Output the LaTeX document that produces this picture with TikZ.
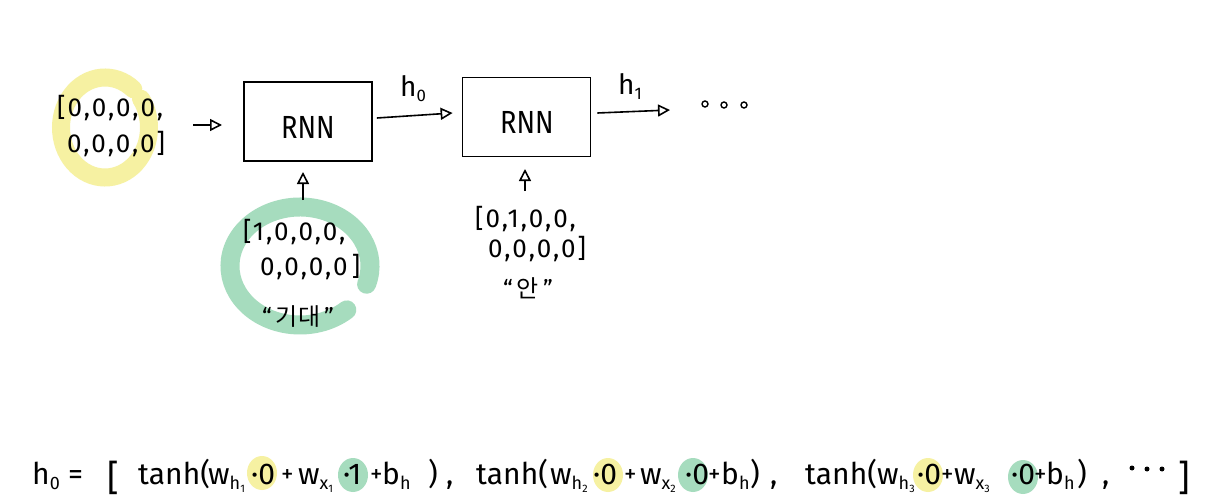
\documentclass[tikz,border=0pt]{standalone}
\usepackage{fontspec}
\setmainfont{Fira Sans}
\newfontfamily\hand[LetterSpace=8]{Fira Sans}
\newfontfamily\cjk{Noto Sans CJK KR}
\usetikzlibrary{arrows.meta}
\definecolor{hlyellow}{RGB}{246,241,162}
\definecolor{hlgreen}{RGB}{166,220,190}
\newcommand{\lo}[1]{\raisebox{-0.35ex}{\scalebox{0.6}{#1}}}
\begin{document}
\begin{tikzpicture}[x=1pt,y=-1pt,
  vec/.style={inner sep=0pt, anchor=base west, font=\hand\fontsize{26}{26}\selectfont},
  kor/.style={inner sep=0pt, font=\fontsize{24}{24}\selectfont},
  eq/.style={inner sep=0pt, anchor=base west, font=\fontsize{30}{30}\selectfont},
  pl/.style={inner sep=0pt, anchor=base west, font=\fontsize{25}{25}\selectfont},
  lbl/.style={inner sep=0pt, anchor=base west, font=\fontsize{28}{28}\selectfont},
  rnnbox/.style={draw, line width=1.8pt, minimum width=128pt, minimum height=79pt, inner sep=0pt},
  rnntxt/.style={inner sep=0pt, font=\fontsize{32}{32}\selectfont},
  arr/.style={line width=1.6pt, -{Triangle[open, length=12pt, width=12pt, line width=1.6pt]}},
  dotc/.style={draw, circle, line width=1.4pt, minimum size=6pt, inner sep=0pt},
  dotf/.style={fill, circle, minimum size=5pt, inner sep=0pt}
]
\fill[white] (0,0) rectangle (1229,503);

% highlight strokes
\draw[hlyellow, line width=18pt, line cap=round]
  (105,127.5) ++ (50:44pt and 50pt) arc[start angle=50, end angle=395, x radius=44pt, y radius=50pt];
\draw[hlgreen, line width=19pt, line cap=round]
  (300,266) ++ (-18:70pt and 59pt) arc[start angle=-18, end angle=312, x radius=70pt, y radius=59pt];

% equation highlights
\fill[hlyellow] (262,473) ellipse[x radius=15pt, y radius=17pt];
\fill[hlgreen]  (353,475) ellipse[x radius=15pt, y radius=17pt];
\fill[hlyellow] (608,475) ellipse[x radius=15pt, y radius=17pt];
\fill[hlgreen]  (693,475) ellipse[x radius=15pt, y radius=17pt];
\fill[hlyellow] (928,475) ellipse[x radius=15pt, y radius=17pt];
\fill[hlgreen]  (1023,477) ellipse[x radius=15pt, y radius=17pt];

% input vector 0
\node[vec] (x0a) at (57,117) {[0,0,0,0,};
\node[vec] (x0b) at (67,152) {0,0,0,0]};
\coordinate (a0s) at (193,125);
\coordinate (a0e) at (222,125);
\draw[arr] (a0s) -- (a0e);

% RNN boxes
\node[rnnbox] (b1) at (308,121.5) {};
\node[rnntxt] (r1) at (308,127) {\scalebox{0.85}[1]{RNN}};
\node[rnnbox] (b2) at (526.5,117) {};
\node[rnntxt] (r2) at (527,122) {\scalebox{0.85}[1]{RNN}};

\draw[arr] ([xshift=4pt,yshift=3.5pt]b1.east) -- ([xshift=-9pt,yshift=4pt]b2.west);
\node[lbl] (h0) at (400,96) {h\lo{0}};
\coordinate (a2e) at (670,110);
\draw[arr] ([xshift=6pt,yshift=4pt]b2.east) -- (a2e);
\node[lbl] (h1) at (618,94) {h\lo{1}};
\node[dotc] (d1) at (705,104) {};
\node[dotc] (d2) at (724,105) {};
\node[dotc] (d3) at (744,105) {};

% inputs below
\coordinate (u1s) at (303,200);
\coordinate (u1e) at (303,172);
\draw[arr] (u1s) -- (u1e);
\node[vec] (x1a) at (243,240) {[1,0,0,0,};
\node[vec] (x1b) at (260,275) {0,0,0,0\,]};
\node[kor] (k1) at (298,317) {“\,{\cjk 기대}\,”};

\coordinate (u2s) at (525,191);
\coordinate (u2e) at (525,169);
\draw[arr] (u2s) -- (u2e);
\node[vec] (x2a) at (475,227) {[0,1,0,0,};
\node[vec] (x2b) at (488,257) {0,0,0,0]};
\node[kor] (k2) at (528,288) {“\,{\cjk 안}\,”};

% equation
\node[eq] (e1) at (32,484) {h\lo{0}};
\node[eq] (e2) at (68,484) {=};
\node[eq, font=\fontsize{36}{36}\selectfont] (e3) at (107,490) {[};
\node[eq] (t1a) at (138,484) {tanh(};
\node[eq] (t1b) at (208,484) {w\lo{h\lo{1}}};
\node[eq] (t1c) at (251,484) {·0};
\node[pl] (t1d) at (281,482) {+};
\node[eq] (t1e) at (298,484) {w\lo{x\lo{1}}};
\node[eq] (t1f) at (343,484) {·1};
\node[pl] (t1g) at (370,482) {+};
\node[eq] (t1j) at (382,484) {b\lo{h}};
\node[eq] (t1h) at (428,484) {)};
\node[eq] (t1i) at (446,484) {,};
\node[eq] (t2a) at (476,484) {tanh(};
\node[eq] (t2b) at (550,484) {w\lo{h\lo{2}}};
\node[eq] (t2c) at (593,484) {·0};
\node[pl] (t2d) at (624,482) {+};
\node[eq] (t2e) at (640,484) {w\lo{x\lo{2}}};
\node[eq] (t2f) at (685,484) {·0};
\node[pl] (t2g) at (708,482) {+};
\node[eq] (t2j) at (721,484) {b\lo{h}};
\node[eq] (t2h) at (750,484) {)};
\node[eq] (t2i) at (770,484) {,};
\node[eq] (t3a) at (805,484) {tanh(};
\node[eq] (t3b) at (877,484) {w\lo{h\lo{3}}};
\node[eq] (t3c) at (917,484) {·0};
\node[pl] (t3d) at (941,482) {+};
\node[eq] (t3e) at (954,484) {w\lo{x\lo{3}}};
\node[eq] (t3f) at (1011,484) {·0};
\node[pl] (t3g) at (1034,482) {+};
\node[eq] (t3j) at (1046,484) {b\lo{h}};
\node[eq] (t3h) at (1077,484) {)};
\node[eq] (t3i) at (1102,484) {,};
\node[dotf] (q1) at (1132,468) {};
\node[dotf] (q2) at (1147,469) {};
\node[dotf] (q3) at (1162,469) {};
\node[eq, font=\fontsize{36}{36}\selectfont] (e4) at (1178,490) {]};
\end{tikzpicture}
\end{document}
